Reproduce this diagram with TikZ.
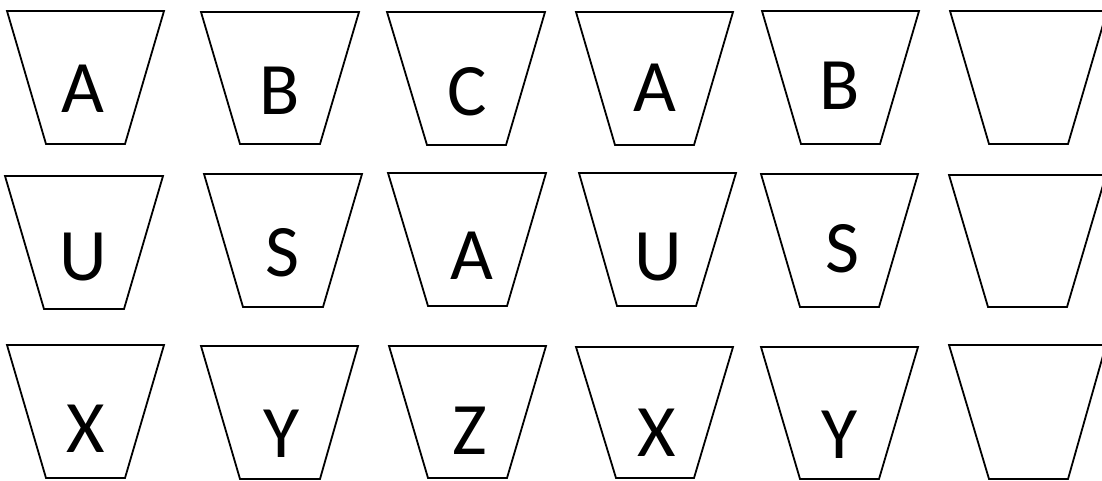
\documentclass[tikz,border=0pt]{standalone}
\usepackage{fontspec}
\setmainfont{Carlito}
\newcommand\trapz[6]{\draw[cup] (#1,#2) -- (#3,#2) -- (#6,#4) -- (#5,#4) -- cycle;}
\begin{document}
\begin{tikzpicture}[x=1pt,y=-1pt,
  cup/.style={draw=black,line width=1.8pt,line join=miter},
  lbl/.style={anchor=base,inner sep=0pt,font=\fontsize{74}{74}\selectfont}]
\useasboundingbox (0,0) rectangle (1102,481);
\clip (0,0) rectangle (1102,481);
% row 1
\trapz{7}{11}{164}{144}{46}{125}
\trapz{201}{12}{359}{144}{240}{320}
\trapz{387}{12}{545}{145}{427}{506}
\trapz{576}{12}{733}{145}{615}{694}
\trapz{762}{11}{919}{144}{801}{880}
\trapz{950}{11}{1107}{144}{989}{1068}
% row 2
\trapz{5}{176}{163}{309}{44}{124}
\trapz{204}{174}{362}{307}{243}{323}
\trapz{388}{173}{546}{306}{428}{507}
\trapz{579}{173}{736}{306}{617}{696}
\trapz{761}{174}{918}{307}{800}{879}
\trapz{949}{175}{1106}{307}{988}{1067}
% row 3
\trapz{7}{345}{164}{478}{46}{125}
\trapz{201}{346}{358}{479}{240}{320}
\trapz{389}{346}{546}{478}{428}{507}
\trapz{576}{347}{733}{478}{616}{694}
\trapz{761}{347}{918}{479}{800}{879}
\trapz{949}{345}{1106}{479}{989}{1068}
% labels
\node[lbl] (a1) at (83,113) {A};
\node[lbl] (b1) at (280,115) {B};
\node[lbl] (c1) at (467,116) {C};
\node[lbl] (a2) at (655,112) {A};
\node[lbl] (b2) at (840,110) {B};
\node[lbl] (u1) at (83,280) {U};
\node[lbl] (s1) at (282,276) {S};
\node[lbl] (a3) at (472,279) {A};
\node[lbl] (u2) at (658,280) {U};
\node[lbl] (s2) at (842,272) {S};
\node[lbl] (x1) at (86,452) {X};
\node[lbl] (y1) at (282,457) {Y};
\node[lbl] (z1) at (470,454) {Z};
\node[lbl] (x2) at (657,456) {X};
\node[lbl] (y2) at (840,458) {Y};
\end{tikzpicture}
\end{document}
